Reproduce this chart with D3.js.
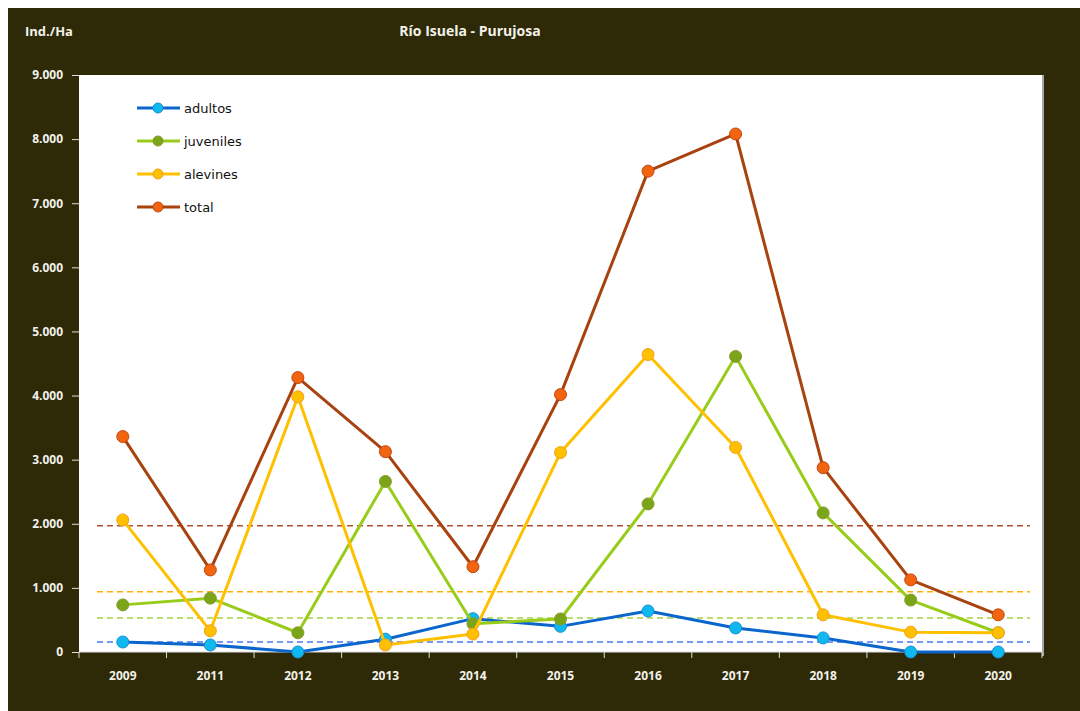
<!DOCTYPE html>
<html><head><meta charset="utf-8">
<script src="https://cdn.jsdelivr.net/npm/d3@7"></script>
<style>body{margin:0;background:#fff;}svg{display:block;}</style>
</head><body>
<script>
const years = ["2009","2011","2012","2013","2014","2015","2016","2017","2018","2019","2020"];
const adultos   = [156, 110, 0, 200, 520, 400, 640, 375, 220, 0, 0];
const juveniles = [735, 840, 300, 2660, 440, 515, 2310, 4610, 2170, 810, 300];
const alevines  = [2060, 330, 3980, 110, 280, 3110, 4640, 3190, 580, 310, 300];
const total     = [3360, 1280, 4280, 3125, 1330, 4015, 7500, 8080, 2875, 1125, 580];
const refLevels = [156, 530, 940, 1970]; // adultos, juveniles, alevines, total
const seriesNames = ["adultos","juveniles","alevines","total"];
const yTicks = [0,1000,2000,3000,4000,5000,6000,7000,8000,9000];

const W = 1080, H = 711;
const svg = d3.select("body").append("svg").attr("width", W).attr("height", H);
svg.append("rect").attr("x",8).attr("y",8).attr("width",W-8).attr("height",H-8).attr("fill","#2e2906");

const m = {l:79, r:1042, t:75, b:652};
svg.append("rect").attr("x",m.l).attr("y",m.t).attr("width",m.r-m.l).attr("height",m.b-m.t).attr("fill","#fff");
svg.append("line").attr("x1",m.r+1).attr("x2",m.r+1).attr("y1",m.t).attr("y2",m.b+4).attr("stroke","#a8a8a8").attr("stroke-width",2);

const x = d3.scaleBand().domain(years).range([m.l, m.r]);
const y = d3.scaleLinear().domain([0,9000]).range([m.b, m.t]);
const fmt = d => d===0 ? "0" : d3.format(",")(d).replace(/,/g,".");

// y axis
const ya = svg.append("g").attr("transform",`translate(${m.l},0)`)
  .call(d3.axisLeft(y).tickValues(yTicks).tickSize(7).tickFormat(fmt));
ya.select(".domain").remove();
ya.selectAll("line").attr("stroke","#ddd");
ya.selectAll("text").attr("fill","#f2f2ea").attr("font-family","'Open Sans', sans-serif")
  .attr("font-weight","bold").attr("font-size","12px").attr("x",-16);

// x axis
const xa = svg.append("g").attr("transform",`translate(0,${m.b})`)
  .call(d3.axisBottom(x).tickSize(0).tickPadding(19));
xa.select(".domain").attr("stroke","#ddd").attr("d",`M${m.l},0H${m.r}`);
xa.selectAll("text").attr("fill","#f2f2ea").attr("font-family","'Open Sans', sans-serif")
  .attr("font-weight","bold").attr("font-size","12px");
const bounds = years.map(d=>x(d)).concat([m.r]);
svg.append("g").selectAll("line").data(bounds).join("line")
  .attr("x1",d=>d).attr("x2",d=>d).attr("y1",m.b).attr("y2",m.b+6).attr("stroke","#ddd");

// titles
svg.append("text").attr("x",25).attr("y",36).text("Ind./Ha")
  .attr("fill","#f2f2ea").attr("font-family","'Open Sans', sans-serif").attr("font-weight","bold").attr("font-size","13px");
svg.append("text").attr("x",470).attr("y",36).attr("text-anchor","middle").text("Río Isuela - Purujosa")
  .attr("fill","#f2f2ea").attr("font-family","'Open Sans', sans-serif").attr("font-weight","bold").attr("font-size","14px");

const styles = [
  {line:"#0a66cc", fill:"#10b8f0", stroke:"#1a8fd0", dash:"#4a78f0"},
  {line:"#99cc1a", fill:"#7aa518", stroke:"#8a9a30", dash:"#a8d040"},
  {line:"#ffc000", fill:"#ffc000", stroke:"#f0a020", dash:"#ffb000"},
  {line:"#a8420e", fill:"#f26410", stroke:"#c04810", dash:"#b05030"}
];
const data = [adultos, juveniles, alevines, total];

// reference dashed lines
svg.append("g").selectAll("line").data(refLevels).join("line")
  .attr("x1",97).attr("x2",1030).attr("y1",d=>y(d)).attr("y2",d=>y(d))
  .attr("stroke",(d,i)=>styles[i].dash).attr("stroke-width",1.5).attr("stroke-dasharray","6,4");

const cx = d => x(d) + x.bandwidth()/2;
const line = d3.line().x((d,i)=>cx(years[i])).y(d=>y(d));
[0,1,2,3].forEach(k=>{
  const g = svg.append("g");
  g.append("path").datum(data[k]).attr("d",line).attr("fill","none")
    .attr("stroke",styles[k].line).attr("stroke-width",3).attr("stroke-linejoin","round");
  g.selectAll("circle").data(data[k]).join("circle")
    .attr("cx",(d,i)=>cx(years[i])).attr("cy",d=>y(d)).attr("r",6)
    .attr("fill",styles[k].fill).attr("stroke",styles[k].stroke).attr("stroke-width",1);
});

// legend
const lg = svg.append("g");
seriesNames.forEach((n,i)=>{
  const yy = 108 + i*33;
  lg.append("line").attr("x1",137).attr("x2",180).attr("y1",yy).attr("y2",yy)
    .attr("stroke",styles[i].line).attr("stroke-width",3);
  lg.append("circle").attr("cx",158).attr("cy",yy).attr("r",5)
    .attr("fill",styles[i].fill).attr("stroke",styles[i].stroke);
  lg.append("text").attr("x",184).attr("y",yy+5).text(n)
    .attr("font-family","'DejaVu Sans', Verdana, sans-serif").attr("font-size","13px").attr("fill","#111");
});
</script>
</body></html>
